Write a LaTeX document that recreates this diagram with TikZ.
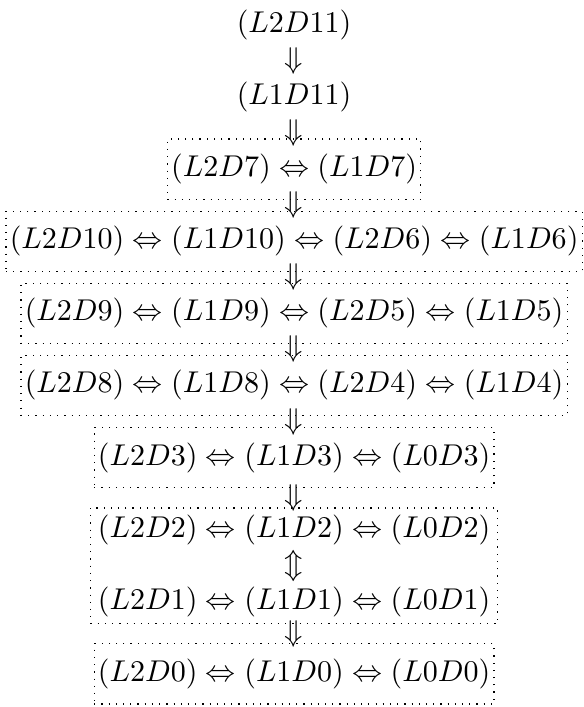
\documentclass[tikz,border=0pt]{standalone}
\usepackage{amsmath,amssymb}
\usetikzlibrary{positioning,fit,calc}

\begin{document}
\begin{tikzpicture}[>=latex,
        level/.style={inner xsep=1.25pt,inner ysep=5pt,outer sep=0pt,
                text height=7.5pt,text depth=2.5pt},
        levelbox/.style={level,draw,dotted},
        pairlevel/.style={level,inner ysep=2.25pt},
        implies/.style={inner sep=0pt,outer sep=0pt}]
        % the two single levels at the top
        \node[level] (r1) at (0,0) {$(L2D11)$};
        \node[level] (r2) [below=4pt of r1] {$(L1D11)$};
        % the dotted boxes of equivalent levels
        \node[levelbox] (r3) [below=4pt of r2] {$(L2D7) \Leftrightarrow (L1D7)$};
        \node[levelbox] (r4) [below=4pt of r3]
                {$(L2D10) \Leftrightarrow (L1D10) \Leftrightarrow (L2D6) \Leftrightarrow (L1D6)$};
        \node[levelbox] (r5) [below=4pt of r4]
                {$(L2D9) \Leftrightarrow (L1D9) \Leftrightarrow (L2D5) \Leftrightarrow (L1D5)$};
        \node[levelbox] (r6) [below=4pt of r5]
                {$(L2D8) \Leftrightarrow (L1D8) \Leftrightarrow (L2D4) \Leftrightarrow (L1D4)$};
        \node[levelbox] (r7) [below=4pt of r6]
                {$(L2D3) \Leftrightarrow (L1D3) \Leftrightarrow (L0D3)$};
        % two rows sharing one box
        \node[pairlevel] (r8) [below=6.75pt of r7]
                {$(L2D2) \Leftrightarrow (L1D2) \Leftrightarrow (L0D2)$};
        \node[pairlevel] (r9) [below=9.5pt of r8]
                {$(L2D1) \Leftrightarrow (L1D1) \Leftrightarrow (L0D1)$};
        \node[draw,dotted,inner xsep=1.25pt,inner ysep=0pt,fit=(r8)(r9)] (b89) {};
        \node[levelbox] (r10) [below=6.75pt of r9]
                {$(L2D0) \Leftrightarrow (L1D0) \Leftrightarrow (L0D0)$};
        % implications between the levels
        \foreach \a/\b in {r1/r2,r2/r3,r3/r4,r4/r5,r5/r6,r6/r7,r7/r8,r9/r10}
                \node[implies] at ($(\a.south)!0.5!(\b.north)$) {$\Downarrow$};
        \node[implies] (eq89) at ($(r8.south)!0.5!(r9.north)$) {$\Updownarrow$};
        % fix the margins
        \pgfresetboundingbox
        \coordinate (tl) at ($(r4.west |- r1.north)+(-2pt,-1.75pt)$);
        \coordinate (br) at ($(r4.east |- r10.south)+(0.5pt,-1pt)$);
        \useasboundingbox (tl) rectangle (br);
\end{tikzpicture}
\end{document}
